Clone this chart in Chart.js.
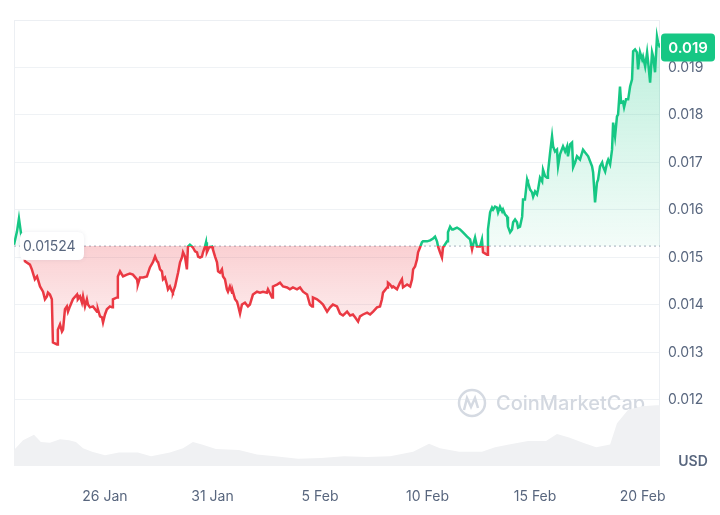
<!DOCTYPE html>
<html>
<head>
<meta charset="utf-8">
<script src="https://cdn.jsdelivr.net/npm/chart.js@4.4.1/dist/chart.umd.min.js"></script>
<style>
html, body { margin: 0; padding: 0; background: #fff; }
</style>
</head>
<body>
<canvas id="grafico" width="720" height="515"></canvas>
<script>
// Days counted from 26 Jan 00:00
const priceDays = [
  -4.23,-4.09,-4.00,-3.91,-3.72,-3.49,-3.40,-3.26,-3.16,-3.02,
  -2.88,-2.79,-2.70,-2.65,-2.56,-2.47,-2.42,-2.23,-2.19,-2.09,
  -2.00,-1.95,-1.86,-1.77,-1.72,-1.63,-1.49,-1.30,-1.26,-1.16,
  -1.07,-1.02,-0.93,-0.84,-0.79,-0.70,-0.56,-0.37,-0.33,-0.23,
  -0.14,-0.09,0.00,0.09,0.23,0.33,0.37,0.56,0.60,0.70,
  0.84,1.02,1.16,1.30,1.49,1.53,1.63,1.77,1.95,2.09,
  2.23,2.33,2.42,2.47,2.56,2.65,2.70,2.79,2.88,2.93,
  3.02,3.12,3.16,3.26,3.35,3.40,3.49,3.58,3.63,3.72,
  3.81,3.86,3.95,4.05,4.09,4.19,4.28,4.33,4.42,4.51,
  4.56,4.65,4.70,4.74,4.84,4.98,5.02,5.12,5.21,5.26,
  5.35,5.44,5.49,5.58,5.67,5.72,5.81,5.91,5.95,6.05,
  6.14,6.19,6.28,6.37,6.51,6.65,6.74,6.88,7.07,7.21,
  7.35,7.53,7.58,7.77,7.81,8.00,8.14,8.28,8.47,8.60,
  8.74,8.93,9.07,9.21,9.40,9.53,9.63,9.67,9.86,10.00,
  10.14,10.33,10.47,10.60,10.79,10.93,11.07,11.26,11.40,11.53,
  11.63,11.77,11.86,12.00,12.19,12.33,12.47,12.65,12.79,12.88,
  12.93,13.12,13.16,13.26,13.35,13.40,13.58,13.72,13.81,13.86,
  14.05,14.19,14.28,14.33,14.42,14.51,14.56,14.65,14.74,14.79,
  14.98,15.12,15.26,15.35,15.44,15.49,15.58,15.67,15.72,15.91,
  15.95,16.05,16.14,16.19,16.37,16.51,16.65,16.84,16.98,17.07,
  17.12,17.21,17.30,17.44,17.53,17.58,17.77,17.81,17.91,18.00,
  18.05,18.14,18.23,18.28,18.37,18.47,18.51,18.60,18.70,18.74,
  18.84,18.93,18.98,19.07,19.16,19.21,19.30,19.40,19.44,19.53,
  19.63,19.67,19.77,19.86,19.91,20.00,20.09,20.14,20.23,20.33,
  20.37,20.47,20.56,20.60,20.70,20.79,20.84,20.93,21.02,21.07,
  21.16,21.30,21.40,21.49,21.53,21.63,21.72,21.77,21.86,21.95,
  22.09,22.23,22.33,22.47,22.65,22.70,22.79,22.88,22.93,23.02,
  23.12,23.16,23.26,23.35,23.40,23.49,23.58,23.63,23.72,23.81,
  23.86,23.95,24.00,24.09,24.14,24.23,24.33,24.42,24.51,24.56,
  24.65,24.74,24.79,24.88,24.98,25.02,25.12,25.21,25.26,25.35,
  25.44,25.49,25.58,25.67,25.72,25.81
];
const priceValues = [
  0.01527,0.01555,0.01582,0.01553,0.01492,0.01485,0.01475,0.01454,0.01460,0.01439,
  0.01428,0.01412,0.01418,0.01426,0.01422,0.01412,0.01321,0.01317,0.01348,0.01359,
  0.01344,0.01348,0.01391,0.01397,0.01386,0.01397,0.01412,0.01422,0.01412,0.01418,
  0.01405,0.01418,0.01397,0.01412,0.01401,0.01395,0.01397,0.01386,0.01391,0.01376,
  0.01374,0.01363,0.01380,0.01391,0.01397,0.01395,0.01412,0.01416,0.01460,0.01471,
  0.01460,0.01464,0.01466,0.01464,0.01454,0.01443,0.01458,0.01458,0.01460,0.01479,
  0.01490,0.01502,0.01492,0.01490,0.01475,0.01471,0.01454,0.01458,0.01443,0.01433,
  0.01439,0.01428,0.01426,0.01439,0.01458,0.01468,0.01490,0.01500,0.01511,0.01502,
  0.01475,0.01523,0.01527,0.01523,0.01521,0.01513,0.01511,0.01502,0.01500,0.01502,
  0.01511,0.01523,0.01532,0.01511,0.01521,0.01523,0.01517,0.01502,0.01490,0.01471,
  0.01468,0.01475,0.01460,0.01454,0.01433,0.01428,0.01439,0.01426,0.01428,0.01412,
  0.01407,0.01399,0.01382,0.01401,0.01405,0.01397,0.01401,0.01422,0.01428,0.01426,
  0.01428,0.01426,0.01433,0.01416,0.01439,0.01443,0.01447,0.01439,0.01437,0.01433,
  0.01437,0.01433,0.01437,0.01428,0.01422,0.01401,0.01397,0.01416,0.01412,0.01407,
  0.01401,0.01386,0.01395,0.01401,0.01397,0.01382,0.01378,0.01386,0.01378,0.01380,
  0.01374,0.01365,0.01376,0.01380,0.01384,0.01380,0.01386,0.01395,0.01397,0.01412,
  0.01426,0.01437,0.01447,0.01443,0.01437,0.01439,0.01433,0.01447,0.01454,0.01437,
  0.01443,0.01439,0.01454,0.01475,0.01481,0.01496,0.01511,0.01521,0.01532,0.01534,
  0.01534,0.01536,0.01540,0.01544,0.01534,0.01523,0.01511,0.01500,0.01521,0.01534,
  0.01553,0.01565,0.01559,0.01559,0.01563,0.01559,0.01553,0.01544,0.01538,0.01517,
  0.01527,0.01542,0.01523,0.01523,0.01538,0.01511,0.01506,0.01559,0.01595,0.01605,
  0.01601,0.01607,0.01605,0.01595,0.01607,0.01597,0.01601,0.01591,0.01586,0.01565,
  0.01553,0.01559,0.01574,0.01580,0.01574,0.01563,0.01565,0.01586,0.01622,0.01622,
  0.01664,0.01658,0.01643,0.01637,0.01628,0.01639,0.01633,0.01643,0.01668,0.01660,
  0.01685,0.01671,0.01668,0.01679,0.01721,0.01755,0.01734,0.01723,0.01727,0.01692,
  0.01717,0.01734,0.01723,0.01734,0.01713,0.01738,0.01742,0.01690,0.01700,0.01713,
  0.01706,0.01727,0.01721,0.01713,0.01692,0.01679,0.01616,0.01658,0.01664,0.01692,
  0.01700,0.01692,0.01681,0.01700,0.01706,0.01696,0.01727,0.01784,0.01755,0.01797,
  0.01801,0.01860,0.01826,0.01828,0.01816,0.01833,0.01833,0.01860,0.01875,0.01934,
  0.01938,0.01932,0.01896,0.01932,0.01917,0.01923,0.01902,0.01932,0.01911,0.01868,
  0.01932,0.01923,0.01890,0.01965,0.01953,0.01942
];

// Volume (millions USD, approx.)
const volumeDays = [
  -4.23,-3.81,-3.30,-2.98,-2.56,-2.09,-1.67,-1.35,-1.02,-0.60,
  0.00,0.65,1.53,2.14,3.02,3.63,4.09,4.51,5.16,6.23,
  7.07,7.91,8.98,10.05,11.12,12.19,13.26,14.33,15.07,15.58,
  16.47,17.53,18.14,18.79,19.67,20.51,21.02,21.58,22.23,22.84,
  23.49,23.81,24.33,24.98,25.63,25.81
];
const volumeValues = [
  1.8,2.9,3.5,2.7,2.6,3.0,2.9,2.7,2.0,1.6,
  1.2,1.5,1.5,1.1,1.5,2.0,2.7,2.4,1.9,1.8,
  1.3,1.1,0.8,0.9,1.1,1.0,1.1,1.6,2.5,2.0,
  1.6,1.6,2.1,2.4,2.8,2.8,3.6,3.2,2.6,2.1,
  2.4,4.8,6.3,6.7,6.8,6.8
];

const basePrice = 0.01524;
const tickDays = [0, 5, 10, 15, 20, 25];
const tickLabels = ['26 Jan', '31 Jan', '5 Feb', '10 Feb', '15 Feb', '20 Feb'];
const yTicks = [0.012, 0.013, 0.014, 0.015, 0.016, 0.017, 0.018, 0.019, 0.020];

const VERDE = '#16c784';
const ROSSO = '#ea3943';
const GRIGIO = '#58667e';
const FONT = 'Inter, "Noto Sans", sans-serif';

// gradient with hard stop on the base price
function coloreLinea(context) {
    const chart = context.chart;
    const area = chart.chartArea;
    if (!area) return VERDE;
    const yb = chart.scales.y.getPixelForValue(basePrice);
    const t = Math.min(1, Math.max(0, (yb - area.top) / (area.bottom - area.top)));
    const g = chart.ctx.createLinearGradient(0, area.top, 0, area.bottom);
    g.addColorStop(0, VERDE);
    g.addColorStop(t, VERDE);
    g.addColorStop(t, ROSSO);
    g.addColorStop(1, ROSSO);
    return g;
}

function coloreRiempimento(context) {
    const chart = context.chart;
    const area = chart.chartArea;
    if (!area) return 'rgba(22,199,132,0.1)';
    const h = area.bottom - area.top;
    const yb = chart.scales.y.getPixelForValue(basePrice);
    const yLow = chart.scales.y.getPixelForValue(0.0131);
    const t = (yb - area.top) / h;
    const t2 = (yLow - area.top) / h;
    const g = chart.ctx.createLinearGradient(0, area.top, 0, area.bottom);
    g.addColorStop(0, 'rgba(22,199,132,0.30)');
    g.addColorStop(t, 'rgba(22,199,132,0.05)');
    g.addColorStop(t, 'rgba(234,57,67,0.24)');
    g.addColorStop(t2, 'rgba(234,57,67,0.05)');
    g.addColorStop(1, 'rgba(234,57,67,0.0)');
    return g;
}

function roundRect(ctx, x, y, w, h, r) {
    ctx.beginPath();
    ctx.moveTo(x + r, y);
    ctx.lineTo(x + w - r, y);
    ctx.quadraticCurveTo(x + w, y, x + w, y + r);
    ctx.lineTo(x + w, y + h - r);
    ctx.quadraticCurveTo(x + w, y + h, x + w - r, y + h);
    ctx.lineTo(x + r, y + h);
    ctx.quadraticCurveTo(x, y + h, x, y + h - r);
    ctx.lineTo(x, y + r);
    ctx.quadraticCurveTo(x, y, x + r, y);
    ctx.closePath();
}

const decorazioni = {
    id: 'decorazioni',
    beforeDatasetsDraw(chart) {
        const ctx = chart.ctx;
        const a = chart.chartArea;
        ctx.save();
        // frame
        ctx.strokeStyle = '#eceff3';
        ctx.lineWidth = 1;
        ctx.beginPath();
        ctx.moveTo(a.left + 0.5, a.bottom);
        ctx.lineTo(a.left + 0.5, a.top + 0.5);
        ctx.lineTo(a.right - 0.5, a.top + 0.5);
        ctx.lineTo(a.right - 0.5, a.bottom);
        ctx.stroke();
        // watermark
        ctx.strokeStyle = '#d5dae2';
        ctx.lineWidth = 2.5;
        ctx.beginPath();
        ctx.arc(472, 403, 13, 0, Math.PI * 2);
        ctx.stroke();
        ctx.beginPath();
        ctx.moveTo(464, 410);
        ctx.lineTo(467, 398);
        ctx.lineTo(471, 407);
        ctx.lineTo(475, 398);
        ctx.lineTo(478, 408);
        ctx.stroke();
        ctx.fillStyle = '#d3d8e0';
        ctx.font = '500 20px ' + FONT;
        ctx.textBaseline = 'middle';
        ctx.textAlign = 'left';
        ctx.fillText('CoinMarketCap', 496, 404);
        ctx.restore();
    },
    afterDatasetsDraw(chart) {
        const ctx = chart.ctx;
        const a = chart.chartArea;
        const y = chart.scales.y;
        ctx.save();
        // base price label
        const yb = y.getPixelForValue(basePrice);
        ctx.shadowColor = 'rgba(88,102,126,0.12)';
        ctx.shadowBlur = 4;
        ctx.fillStyle = '#fff';
        roundRect(ctx, a.left + 6, yb - 14, 64, 28, 6);
        ctx.fill();
        ctx.shadowColor = 'transparent';
        ctx.fillStyle = GRIGIO;
        ctx.font = '14px ' + FONT;
        ctx.textBaseline = 'middle';
        ctx.textAlign = 'left';
        ctx.fillText(basePrice.toFixed(5), a.left + 9, yb + 1);
        // last price label
        const last = priceValues[priceValues.length - 1];
        const yl = y.getPixelForValue(last);
        ctx.fillStyle = VERDE;
        roundRect(ctx, a.right + 1, yl - 14, 54, 28, 4);
        ctx.fill();
        ctx.fillStyle = '#fff';
        ctx.font = '600 15px ' + FONT;
        ctx.textAlign = 'center';
        ctx.fillText(last.toFixed(3), a.right + 28, yl + 1);
        // currency
        ctx.fillStyle = GRIGIO;
        ctx.font = '600 14px ' + FONT;
        ctx.fillText('USD', 693, 462);
        ctx.restore();
    }
};

const xMin = priceDays[0];
const xMax = priceDays[priceDays.length - 1];

const ctx = document.getElementById('grafico').getContext('2d');
new Chart(ctx, {
    type: 'line',
    data: {
        datasets: [
            {
                label: 'Price',
                data: priceDays.map((d, i) => ({ x: d, y: priceValues[i] })),
                borderColor: coloreLinea,
                backgroundColor: coloreRiempimento,
                borderWidth: 2.5,
                pointRadius: 0,
                tension: 0,
                fill: { value: basePrice },
                order: 1
            },
            {
                label: 'Base',
                data: [{ x: xMin, y: basePrice }, { x: xMax, y: basePrice }],
                borderColor: '#a3acbb',
                borderWidth: 1,
                borderDash: [2, 3],
                pointRadius: 0,
                fill: false,
                order: 2
            },
            {
                label: 'Volume',
                data: volumeDays.map((d, i) => ({ x: d, y: volumeValues[i] })),
                yAxisID: 'yVol',
                borderWidth: 0,
                borderColor: 'rgba(0,0,0,0)',
                backgroundColor: '#f0f1f3',
                pointRadius: 0,
                fill: 'origin',
                order: 3
            }
        ]
    },
    options: {
        responsive: false,
        animation: false,
        layout: { padding: { left: 14, top: 20, right: 0, bottom: 0 } },
        plugins: {
            legend: { display: false },
            tooltip: { enabled: false }
        },
        scales: {
            x: {
                type: 'linear',
                min: xMin,
                max: xMax,
                grid: { display: false },
                border: { display: false },
                afterBuildTicks: s => { s.ticks = tickDays.map(v => ({ value: v })); },
                afterFit: s => { s.height = 49; },
                ticks: {
                    autoSkip: false,
                    maxRotation: 0,
                    padding: 14,
                    color: GRIGIO,
                    font: { family: FONT, size: 14 },
                    callback: (v, i) => tickLabels[i]
                }
            },
            y: {
                position: 'right',
                min: 0.01061,
                max: 0.020,
                grid: { color: '#eff2f5', drawTicks: false },
                border: { display: false },
                afterBuildTicks: s => { s.ticks = yTicks.map(v => ({ value: v })); },
                afterFit: s => { s.width = 60; },
                ticks: {
                    padding: 8,
                    color: GRIGIO,
                    font: { family: FONT, size: 14 },
                    callback: v => v >= 0.0199 ? '' : v.toFixed(3)
                }
            },
            yVol: {
                display: false,
                min: 0,
                max: 50
            }
        }
    },
    plugins: [decorazioni]
});
</script>
</body>
</html>
